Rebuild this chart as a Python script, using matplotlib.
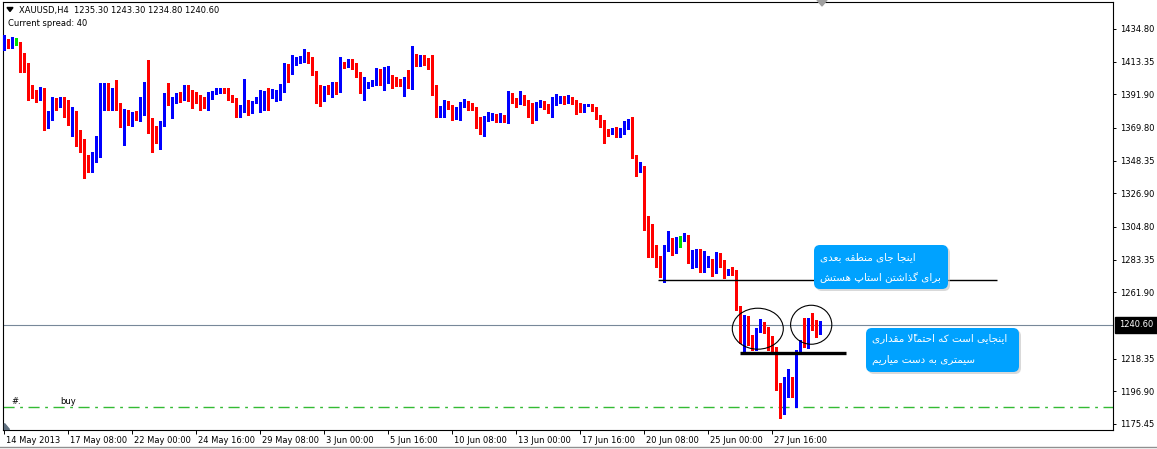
import matplotlib
matplotlib.use("Agg")
import matplotlib.pyplot as plt
import matplotlib.transforms as mtransforms
from matplotlib.patches import Ellipse, FancyBboxPatch, Polygon

W, H = 1157, 449

# XAUUSD H4 candles (open / high / low / close), oldest first
opens = [
    1422.3, 1425.6, 1424.3, 1426.3, 1425.6, 1413.1, 1411.2, 1394.7, 1393.4, 1391.5,
    1394.7, 1370.5, 1379.0, 1386.2, 1384.9, 1389.5, 1379.6, 1377.0, 1377.7, 1365.9,
    1361.9, 1346.8, 1342.9, 1351.4, 1353.4, 1382.9, 1394.7, 1383.6, 1394.1, 1384.9,
    1372.4, 1377.7, 1375.7, 1379.0, 1376.4, 1380.3, 1394.7, 1375.0, 1369.8, 1362.6,
    1372.4, 1396.1, 1383.6, 1388.2, 1390.8, 1389.5, 1397.4, 1391.5, 1391.5, 1389.5,
    1388.8, 1384.2, 1390.2, 1392.8, 1393.4, 1395.4, 1395.4, 1390.2, 1388.8, 1378.3,
    1381.6, 1386.2, 1380.3, 1386.9, 1381.6, 1387.5, 1392.8, 1390.2, 1388.2, 1389.5,
    1395.4, 1409.2, 1405.9, 1412.5, 1413.1, 1413.8, 1418.4, 1415.1, 1406.6, 1396.1,
    1388.2, 1396.7, 1394.1, 1399.3, 1394.7, 1412.5, 1410.5, 1414.4, 1409.9, 1405.9,
    1394.7, 1396.7, 1398.0, 1399.3, 1407.9, 1399.3, 1401.3, 1403.3, 1402.6, 1400.0,
    1397.4, 1403.3, 1396.1, 1416.4, 1413.1, 1416.4, 1413.8, 1410.5, 1395.4, 1381.6,
    1382.3, 1384.9, 1384.9, 1378.3, 1380.3, 1384.2, 1385.6, 1384.2, 1382.9, 1371.1,
    1369.8, 1375.7, 1377.0, 1378.3, 1375.7, 1377.7, 1375.0, 1390.8, 1388.8, 1386.2,
    1388.8, 1386.2, 1379.0, 1377.7, 1384.9, 1386.9, 1384.2, 1381.0, 1386.9, 1386.9,
    1390.2, 1387.5, 1389.5, 1387.5, 1383.6, 1382.3, 1384.2, 1383.6, 1382.3, 1377.0,
    1374.4, 1367.2, 1366.5, 1369.1, 1365.9, 1367.2, 1371.1, 1373.1, 1350.8, 1342.2,
    1344.2, 1311.4, 1295.6, 1291.0, 1285.1, 1272.6, 1289.7, 1296.3, 1291.7, 1296.3,
    1296.3, 1298.9, 1282.5, 1283.8, 1289.0, 1276.6, 1281.2, 1283.1, 1275.2, 1287.1,
    1282.5, 1275.9, 1277.9, 1274.6, 1252.3, 1231.9, 1243.7, 1230.6, 1225.3, 1237.2,
    1238.5, 1237.8, 1231.3, 1225.3, 1199.7, 1182.7, 1199.7, 1202.4, 1193.2, 1222.7,
    1233.9, 1227.3, 1241.8, 1241.1, 1235.3,
]
highs = [
    1430.9, 1428.2, 1429.5, 1428.9, 1426.3, 1419.0, 1412.5, 1398.0, 1394.7, 1396.7,
    1396.1, 1381.0, 1390.2, 1389.5, 1390.2, 1390.2, 1388.2, 1383.6, 1381.0, 1368.5,
    1362.6, 1352.1, 1354.0, 1364.5, 1399.3, 1399.3, 1399.3, 1396.1, 1401.3, 1386.2,
    1382.3, 1381.6, 1380.3, 1381.0, 1390.2, 1400.0, 1414.4, 1376.4, 1371.1, 1374.4,
    1392.8, 1399.3, 1390.2, 1392.8, 1393.4, 1398.0, 1398.0, 1394.7, 1393.4, 1391.5,
    1390.2, 1393.4, 1394.1, 1396.1, 1396.1, 1396.1, 1396.1, 1391.5, 1389.5, 1384.9,
    1402.0, 1388.2, 1387.5, 1390.2, 1394.7, 1394.1, 1396.1, 1395.4, 1394.7, 1398.7,
    1412.5, 1411.8, 1417.7, 1416.4, 1417.1, 1421.7, 1419.7, 1416.4, 1407.2, 1398.0,
    1397.4, 1398.0, 1400.0, 1400.0, 1416.4, 1413.1, 1415.1, 1415.1, 1412.5, 1406.6,
    1403.3, 1400.0, 1401.3, 1409.2, 1408.5, 1409.9, 1410.5, 1404.6, 1403.3, 1402.0,
    1403.3, 1407.9, 1423.6, 1418.4, 1417.7, 1417.7, 1415.8, 1417.7, 1398.0, 1384.2,
    1388.2, 1387.5, 1384.9, 1383.6, 1386.9, 1388.8, 1387.5, 1386.2, 1383.6, 1377.0,
    1377.7, 1380.3, 1379.6, 1379.0, 1379.6, 1378.3, 1394.1, 1392.8, 1389.5, 1394.1,
    1391.5, 1388.2, 1386.2, 1386.9, 1388.2, 1387.5, 1385.6, 1390.2, 1392.1, 1390.8,
    1390.8, 1391.5, 1390.2, 1388.2, 1386.2, 1385.6, 1385.6, 1385.6, 1383.6, 1378.3,
    1375.0, 1369.1, 1369.8, 1370.5, 1369.8, 1374.4, 1375.7, 1377.0, 1352.1, 1347.5,
    1345.0, 1312.0, 1306.8, 1293.0, 1285.8, 1293.0, 1302.2, 1297.6, 1298.2, 1298.9,
    1300.9, 1299.5, 1289.7, 1290.3, 1290.3, 1289.0, 1285.8, 1283.8, 1288.4, 1287.7,
    1283.1, 1277.5, 1278.5, 1276.6, 1253.0, 1247.0, 1246.4, 1233.9, 1238.5, 1244.4,
    1242.4, 1239.1, 1233.2, 1226.0, 1202.4, 1206.3, 1211.6, 1206.3, 1224.0, 1230.6,
    1245.0, 1245.0, 1248.3, 1243.7, 1243.3,
]
lows = [
    1421.0, 1422.3, 1422.3, 1424.3, 1406.6, 1406.6, 1388.2, 1389.5, 1386.9, 1388.2,
    1368.5, 1369.8, 1375.0, 1381.6, 1383.6, 1377.0, 1371.8, 1364.5, 1358.0, 1354.0,
    1337.0, 1340.9, 1340.9, 1347.5, 1350.8, 1381.6, 1381.6, 1381.6, 1381.6, 1370.5,
    1358.6, 1371.8, 1371.1, 1375.0, 1374.4, 1378.3, 1366.5, 1354.0, 1360.0, 1356.0,
    1371.1, 1384.9, 1376.4, 1386.2, 1386.9, 1388.2, 1387.5, 1382.9, 1386.2, 1381.6,
    1382.9, 1381.6, 1388.8, 1392.1, 1392.8, 1392.8, 1388.2, 1386.9, 1377.0, 1377.0,
    1380.3, 1378.3, 1379.6, 1386.2, 1380.3, 1381.6, 1381.6, 1389.5, 1387.5, 1388.2,
    1393.4, 1400.0, 1405.3, 1411.2, 1412.5, 1413.1, 1412.5, 1404.6, 1386.2, 1384.2,
    1387.5, 1392.1, 1390.2, 1392.1, 1393.4, 1409.2, 1409.9, 1408.5, 1403.3, 1392.8,
    1388.2, 1396.1, 1397.4, 1398.0, 1398.0, 1394.7, 1399.3, 1396.1, 1397.4, 1397.4,
    1390.8, 1396.1, 1395.4, 1410.5, 1410.5, 1411.2, 1408.5, 1391.5, 1377.0, 1377.0,
    1377.0, 1382.3, 1375.0, 1375.7, 1375.0, 1383.6, 1381.6, 1381.6, 1369.8, 1365.9,
    1364.5, 1374.4, 1375.0, 1373.7, 1373.7, 1373.7, 1373.1, 1386.2, 1383.6, 1385.6,
    1385.0, 1377.0, 1373.1, 1375.0, 1383.6, 1382.3, 1379.6, 1377.0, 1384.9, 1386.2,
    1385.6, 1386.2, 1385.6, 1379.0, 1380.3, 1380.3, 1383.9, 1381.0, 1375.7, 1370.5,
    1360.0, 1364.5, 1365.9, 1363.9, 1363.9, 1365.9, 1369.1, 1350.1, 1338.3, 1340.9,
    1302.8, 1285.1, 1285.1, 1278.5, 1272.0, 1268.7, 1289.0, 1286.4, 1287.7, 1291.7,
    1295.6, 1281.2, 1277.9, 1278.5, 1275.2, 1275.2, 1278.5, 1272.6, 1274.6, 1278.5,
    1271.3, 1273.3, 1273.3, 1250.3, 1228.6, 1222.7, 1227.3, 1224.0, 1224.0, 1235.9,
    1235.2, 1224.0, 1223.4, 1197.8, 1179.4, 1182.0, 1193.2, 1193.2, 1186.6, 1222.0,
    1226.0, 1225.3, 1237.2, 1232.6, 1234.8,
]
closes = [
    1429.5, 1423.0, 1425.6, 1426.3, 1411.2, 1411.2, 1394.7, 1391.5, 1390.2, 1394.7,
    1371.8, 1379.6, 1384.9, 1384.9, 1388.8, 1379.0, 1377.0, 1377.7, 1365.2, 1358.6,
    1346.8, 1342.9, 1352.1, 1354.0, 1386.9, 1394.7, 1390.2, 1394.7, 1383.6, 1372.4,
    1377.7, 1375.7, 1379.0, 1375.7, 1384.2, 1396.1, 1374.4, 1370.5, 1363.2, 1372.4,
    1391.5, 1386.9, 1388.2, 1391.5, 1390.2, 1397.4, 1388.2, 1388.2, 1388.2, 1386.2,
    1384.2, 1390.8, 1392.8, 1394.1, 1395.4, 1393.4, 1390.2, 1388.2, 1378.3, 1383.6,
    1386.2, 1380.3, 1386.2, 1388.2, 1388.2, 1392.8, 1391.5, 1392.8, 1392.8, 1398.0,
    1410.5, 1402.6, 1413.1, 1413.8, 1414.4, 1418.4, 1413.8, 1405.9, 1389.5, 1388.2,
    1396.7, 1392.8, 1398.0, 1395.4, 1413.1, 1410.5, 1414.4, 1409.9, 1404.6, 1394.7,
    1396.7, 1399.3, 1399.3, 1407.2, 1399.3, 1401.3, 1403.3, 1402.0, 1399.3, 1398.0,
    1402.6, 1396.7, 1416.4, 1413.1, 1416.4, 1413.8, 1410.5, 1393.4, 1381.6, 1382.9,
    1385.6, 1383.6, 1378.3, 1381.0, 1384.9, 1386.2, 1382.9, 1382.3, 1370.5, 1369.8,
    1376.4, 1377.7, 1378.3, 1375.0, 1377.7, 1375.0, 1390.2, 1387.5, 1385.6, 1388.8,
    1385.6, 1378.3, 1377.7, 1385.6, 1386.2, 1383.6, 1381.0, 1387.5, 1388.2, 1390.2,
    1387.5, 1389.5, 1386.2, 1383.6, 1382.9, 1384.9, 1384.9, 1381.6, 1377.0, 1373.7,
    1366.5, 1366.5, 1369.1, 1365.9, 1367.8, 1371.8, 1373.1, 1350.8, 1342.2, 1344.2,
    1310.7, 1294.9, 1290.3, 1284.4, 1272.6, 1290.3, 1296.3, 1291.7, 1296.9, 1296.3,
    1298.9, 1283.8, 1283.8, 1289.0, 1276.6, 1281.8, 1283.1, 1275.2, 1287.1, 1281.8,
    1276.6, 1277.2, 1274.6, 1251.6, 1231.9, 1245.7, 1230.6, 1225.3, 1237.2, 1239.1,
    1237.2, 1230.6, 1225.3, 1199.7, 1182.7, 1199.7, 1202.4, 1195.8, 1222.7, 1227.3,
    1227.3, 1241.8, 1239.1, 1233.9, 1240.6,
]

date_labels = ["14 May 2013", "17 May 08:00", "22 May 00:00", "24 May 16:00",
               "29 May 08:00", "3 Jun 00:00", "5 Jun 16:00", "10 Jun 08:00",
               "13 Jun 00:00", "17 Jun 16:00", "20 Jun 08:00", "25 Jun 00:00",
               "27 Jun 16:00"]
bars_per_label = 16
price_ticks = [1434.80, 1413.35, 1391.90, 1369.80, 1348.35, 1326.90, 1304.80,
               1283.35, 1261.90, 1218.35, 1196.90, 1175.45]
bid = 1240.60
stop_level = 1270.0
support_level = 1221.9
buy_level = 1186.6

note1 = ["اینجا جای منطقه بعدی", "برای گذاشتن استاپ هستش"]
note2 = ["اینجایی است که احتمالاً مقداری", "سیمتری به دست میاریم"]

# --- minimal Persian shaping (presentation forms, visual order) ---
AR = {
    '\u0627': ('\uFE8D', '\uFE8E'),
    '\u0628': ('\uFE8F', '\uFE90', '\uFE91', '\uFE92'),
    '\u067E': ('\uFB56', '\uFB57', '\uFB58', '\uFB59'),
    '\u062A': ('\uFE95', '\uFE96', '\uFE97', '\uFE98'),
    '\u062C': ('\uFE9D', '\uFE9E', '\uFE9F', '\uFEA0'),
    '\u062D': ('\uFEA1', '\uFEA2', '\uFEA3', '\uFEA4'),
    '\u062F': ('\uFEA9', '\uFEAA'),
    '\u0630': ('\uFEAB', '\uFEAC'),
    '\u0631': ('\uFEAD', '\uFEAE'),
    '\u0633': ('\uFEB1', '\uFEB2', '\uFEB3', '\uFEB4'),
    '\u0634': ('\uFEB5', '\uFEB6', '\uFEB7', '\uFEB8'),
    '\u0637': ('\uFEC1', '\uFEC2', '\uFEC3', '\uFEC4'),
    '\u0639': ('\uFEC9', '\uFECA', '\uFECB', '\uFECC'),
    '\u0642': ('\uFED5', '\uFED6', '\uFED7', '\uFED8'),
    '\u06A9': ('\uFB8E', '\uFB8F', '\uFB90', '\uFB91'),
    '\u06AF': ('\uFB92', '\uFB93', '\uFB94', '\uFB95'),
    '\u0644': ('\uFEDD', '\uFEDE', '\uFEDF', '\uFEE0'),
    '\u0645': ('\uFEE1', '\uFEE2', '\uFEE3', '\uFEE4'),
    '\u0646': ('\uFEE5', '\uFEE6', '\uFEE7', '\uFEE8'),
    '\u0647': ('\uFEE9', '\uFEEA', '\uFEEB', '\uFEEC'),
    '\u06CC': ('\uFBFC', '\uFBFD', '\uFBFE', '\uFBFF'),
}


def is_mark(c):
    return '\u064B' <= c <= '\u0652'


def shape(txt):
    s = txt.replace('\u064A', '\u06CC').replace('\u0643', '\u06A9')
    n = len(s)

    def neighbour(k, step):
        k += step
        while 0 <= k < n and is_mark(s[k]):
            k += step
        return k if 0 <= k < n and s[k] in AR else None

    clusters = []
    k = 0
    while k < n:
        ch = s[k]
        if is_mark(ch):
            if clusters:
                clusters[-1] += ch
            k += 1
            continue
        if ch not in AR:
            clusters.append(ch)
            k += 1
            continue
        p = neighbour(k, -1)
        nx = neighbour(k, 1)
        joins_prev = p is not None and len(AR[s[p]]) == 4
        if ch == '\u0644' and nx is not None and s[nx] == '\u0627':
            clusters.append('\uFEFC' if joins_prev else '\uFEFB')
            k = nx + 1
            continue
        f = AR[ch]
        joins_next = len(f) == 4 and nx is not None
        if joins_prev and joins_next:
            g = f[3]
        elif joins_prev:
            g = f[1]
        elif joins_next:
            g = f[2]
        else:
            g = f[0]
        clusters.append(g)
        k += 1
    return ''.join(reversed(clusters))


# --- figure ---
fig = plt.figure(figsize=(W / 100, H / 100), dpi=100, facecolor='white')
ax = fig.add_axes([3 / W, 1 - 430 / H, 1110 / W, 428 / H])
ax.set_xlim(-0.25, 277.25)
ax.set_ylim(1171.5, 1452.5)

x = list(range(len(opens)))
cols = []
for o, c in zip(opens, closes):
    if c > o:
        cols.append('#0000ff')
    elif c < o:
        cols.append('#ff0000')
    else:
        cols.append('#00e000')

ax.vlines(x, lows, highs, colors=cols, lw=0.8, antialiased=False, zorder=3)
bottoms = [min(o, c) for o, c in zip(opens, closes)]
heights = [abs(c - o) for o, c in zip(opens, closes)]
ax.bar(x, heights, bottom=bottoms, width=0.68, color=cols, lw=0,
       antialiased=False, zorder=3)
for xi, o, c, col in zip(x, opens, closes, cols):
    if o == c:
        ax.hlines(o, xi - 0.35, xi + 0.35, colors=col, lw=0.8, zorder=3)

# price lines and drawn objects
ax.axhline(bid, color='#778899', lw=0.8, zorder=2)
ax.axhline(buy_level, color='#33bb33', lw=1.0, ls=(0, (8, 4, 2, 4)), zorder=2)
ax.hlines(stop_level, 163.5, 248.25, colors='black', lw=1.0, zorder=4)
ax.hlines(support_level, 184, 210.4, colors='black', lw=2.4, zorder=4)
ax.add_patch(Ellipse((188.45, 1238.0), 12.75, 26.9, fill=False, ec='black', lw=0.8, zorder=5))
ax.add_patch(Ellipse((201.8, 1240.6), 10.3, 25.6, fill=False, ec='black', lw=0.8, zorder=5))

# axes styling
for sp in ax.spines.values():
    sp.set_linewidth(0.8)
    sp.set_color('black')
ax.yaxis.tick_right()
ax.set_yticks(price_ticks)
ax.set_yticklabels(['%.2f' % p for p in price_ticks])
ax.set_xticks([bars_per_label * k for k in range(len(date_labels))])
ax.set_xticklabels(date_labels)
ax.tick_params(axis='y', direction='out', length=2.5, width=0.7, pad=2.5,
               labelsize=6, right=True, left=False)
ax.tick_params(axis='x', direction='out', length=3, width=0.7, pad=1.0,
               labelsize=6)
shift = mtransforms.ScaledTranslation(2 / 100, 0, fig.dpi_scale_trans)
for lab in ax.get_xticklabels():
    lab.set_ha('left')
    lab.set_transform(lab.get_transform() + shift)
ax.text(1.0 + 6 / 1110, bid, '%.2f' % bid, transform=ax.get_yaxis_transform(),
        color='white', fontsize=6, va='center', ha='left',
        bbox=dict(boxstyle='square,pad=0.45', fc='black', ec='black'))

# pixel-space helpers for overlay items
px = mtransforms.Affine2D().scale(1, -1).translate(0, H)

fig.add_artist(Polygon([(7, 7.5), (13, 7.5), (10, 11.5)], closed=True,
                       color='black', transform=px))
fig.text(19, 10, 'XAUUSD,H4  1235.30 1243.30 1234.80 1240.60', transform=px,
         fontsize=6, va='center', ha='left')
fig.text(8, 23, 'Current spread: 40', transform=px, fontsize=6,
         va='center', ha='left')
fig.text(11, 402, '#.', transform=px, fontsize=6, va='center', ha='left')
fig.text(60, 401, 'buy', transform=px, fontsize=6, va='center', ha='left')
fig.add_artist(Polygon([(817, 0), (827, 0), (822, 6)], closed=True,
                       color='#a0a0a0', transform=px))
fig.add_artist(Polygon([(4, 423), (4, 429), (9, 429)], closed=True,
                       color='#607080', transform=px))
fig.add_artist(plt.Line2D([0, W], [446.5, 446.5], color='#909090', lw=1,
                          transform=px))

box_color = '#00a2ff'
for (x0, y0, x1, y1), lines, tx, tys in [
        ((814, 245, 948, 289), note1, 820, (257, 278)),
        ((866, 328, 1019, 372), note2, 872, (339, 360))]:
    fig.add_artist(FancyBboxPatch((x0 + 2, y0 + 2), x1 - x0, y1 - y0,
                                  boxstyle='round,pad=0,rounding_size=6',
                                  fc='#c0c0c0', ec='none', alpha=0.6, transform=px))
    fig.add_artist(FancyBboxPatch((x0, y0), x1 - x0, y1 - y0,
                                  boxstyle='round,pad=0,rounding_size=6',
                                  fc=box_color, ec='none', transform=px))
    for line, ty in zip(lines, tys):
        fig.text(tx, ty, shape(line), transform=px, fontsize=7.5, color='white',
                 va='center', ha='left', family=['DejaVu Sans'])

fig.savefig('out.png', dpi=100, facecolor='white')
